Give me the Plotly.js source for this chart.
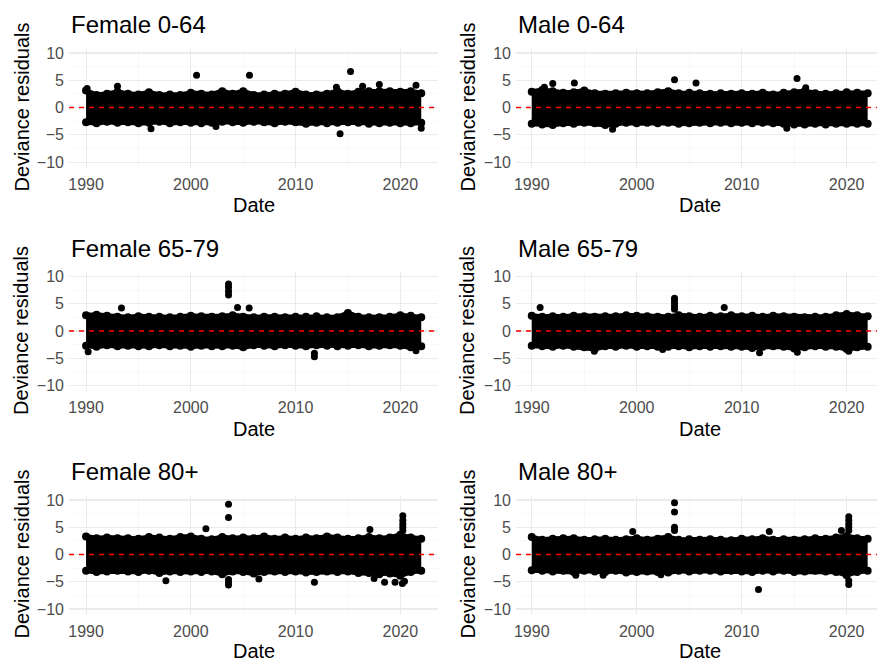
<!DOCTYPE html>
<html>
<head>
<meta charset="utf-8">
<script src="https://cdn.plot.ly/plotly-3.0.1.min.js"></script>
<style>html,body{margin:0;padding:0;background:#fff;}#chart{width:877px;height:661px;}</style>
</head>
<body>
<div id="chart"></div>
<script>
// ---- data ----
const panelTitles = ["Female 0-64", "Male 0-64", "Female 65-79", "Male 65-79", "Female 80+", "Male 80+"];
const xTitle = "Date";
const yTitle = "Deviance residuals";
// band envelope sampled once a year (centre of the outermost points)
const envYears = [1990,1991,1992,1993,1994,1995,1996,1997,1998,1999,2000,2001,2002,2003,2004,2005,2006,2007,2008,2009,2010,2011,2012,2013,2014,2015,2016,2017,2018,2019,2020,2021,2022];

const upperF064 = [3.1,2.3,2.5,2.9,2.5,2.4,2.8,2.3,2.4,2.3,2.7,2.5,2.4,3.0,2.5,3.0,2.3,2.4,2.5,2.5,2.9,2.4,2.4,2.5,3.0,2.5,2.9,3.0,3.0,3.0,2.9,3.0,2.6];
const lowerF064 = [-2.7,-2.9,-2.6,-2.8,-2.7,-2.9,-2.8,-2.6,-2.9,-2.7,-2.8,-2.9,-2.8,-2.6,-2.7,-2.8,-2.6,-2.7,-2.9,-2.6,-2.7,-3.0,-2.8,-2.9,-2.8,-2.7,-2.8,-3.0,-2.9,-2.8,-2.9,-2.9,-2.8];
const outXF064 = [2000.55,2005.6,2015.25,1993.0,2016.4,2018.0,2021.5,1996.2,2002.4,2014.25,2022.0,2013.9,1990.1];
const outYF064 = [5.9,5.9,6.6,3.9,3.9,4.2,4.1,-3.9,-3.5,-4.8,-3.8,3.7,3.5];

const upperM064 = [2.9,3.2,3.0,2.7,2.8,3.1,2.6,2.5,2.6,2.7,2.6,2.6,2.8,3.0,2.6,2.7,2.6,2.5,2.6,2.5,2.6,2.5,2.7,2.4,2.7,2.8,3.0,2.6,2.5,2.6,2.8,2.7,2.6];
const lowerM064 = [-3.0,-3.1,-3.2,-2.9,-3.0,-2.8,-2.9,-3.2,-3.0,-2.8,-2.9,-2.8,-2.9,-2.8,-3.0,-2.9,-2.8,-2.9,-2.8,-2.9,-2.8,-2.9,-2.8,-2.9,-3.0,-3.1,-3.1,-3.0,-3.1,-3.0,-3.0,-3.0,-3.0];
const outXM064 = [1992.0,1994.06,2003.6,2005.65,2015.27,2016.1,1997.7,1991.2,2014.3];
const outYM064 = [4.4,4.5,5.1,4.5,5.3,3.6,-4.0,3.7,-3.8];

const upperF6579 = [2.9,3.0,2.8,2.6,2.5,2.7,2.6,2.6,2.5,2.6,2.8,2.7,2.6,2.7,2.9,2.6,2.5,2.6,2.6,2.5,2.6,2.6,2.7,2.5,2.5,3.3,2.6,2.5,2.5,2.6,2.9,2.8,2.5];
const lowerF6579 = [-2.7,-2.9,-2.6,-2.8,-2.7,-2.8,-2.8,-2.6,-2.8,-2.7,-2.9,-2.7,-2.8,-2.8,-2.7,-3.0,-2.6,-2.7,-2.8,-2.6,-2.7,-2.8,-2.6,-2.7,-2.8,-2.7,-2.6,-2.8,-2.7,-2.6,-2.7,-3.0,-2.8];
const outXF6579 = [2003.6,2003.6,2003.6,2003.6,2004.46,2005.57,1993.38,1990.2,2011.8,2011.8,2021.5];
const outYF6579 = [8.6,8.0,7.3,6.6,4.3,4.2,4.2,-3.8,-4.1,-4.7,-3.6];

const upperM6579 = [2.8,2.6,2.7,2.6,2.8,2.7,2.6,2.7,2.7,2.9,2.8,2.7,2.6,2.6,2.9,2.7,2.6,2.8,2.7,2.9,2.7,2.8,2.6,2.8,2.7,2.6,2.5,2.6,2.6,2.9,3.1,2.9,2.7];
const lowerM6579 = [-2.7,-2.8,-2.9,-2.7,-2.9,-3.0,-3.3,-2.8,-2.9,-2.7,-2.9,-2.8,-2.9,-2.9,-2.8,-3.0,-2.8,-2.9,-2.8,-2.9,-2.9,-3.1,-2.9,-2.8,-2.9,-3.2,-3.0,-2.8,-2.9,-2.9,-3.3,-3.0,-2.9];
const outXM6579 = [1990.8,2003.6,2003.6,2003.6,2003.6,2003.6,2008.34,1995.96,2002.47,2011.7,2020.2,2015.3];
const outYM6579 = [4.3,6.0,5.5,5.0,4.5,4.0,4.3,-3.7,-3.4,-4.0,-3.7,-3.9];

const upperF80 = [3.3,3.0,3.1,3.0,3.0,2.9,3.2,3.1,2.9,3.2,3.3,2.9,2.8,3.2,3.0,3.1,3.0,3.3,2.9,3.1,2.9,3.1,3.0,3.3,3.1,2.9,3.0,3.2,3.0,3.1,3.6,3.1,2.9];
const lowerF80 = [-3.0,-3.2,-3.1,-3.0,-3.1,-3.2,-3.0,-3.4,-3.1,-3.2,-3.1,-3.2,-3.1,-3.6,-3.1,-3.2,-3.5,-3.2,-3.1,-3.2,-3.1,-3.3,-3.2,-3.1,-3.2,-3.1,-3.4,-3.4,-3.6,-3.5,-3.9,-3.2,-3.0];
const outXF80 = [2003.6,2003.6,2001.44,2020.24,2020.24,2020.24,2020.24,2020.24,2017.1,2011.8,2003.6,2003.6,2003.6,1997.62,2006.5,2018.5,2019.5,2020.4,2020.2,2017.5];
const outYF80 = [9.2,6.8,4.7,7.1,6.3,5.6,5.0,4.4,4.6,-5.1,-4.6,-5.2,-5.6,-4.8,-4.5,-5.1,-5.1,-4.9,-5.3,-4.4];

const upperM80 = [3.2,2.7,2.9,3.0,3.0,2.7,2.8,2.9,2.7,2.8,3.0,2.7,2.9,3.2,2.7,2.8,2.7,2.8,2.7,2.6,2.9,2.8,3.0,2.7,2.8,2.7,2.8,3.0,2.9,3.1,3.4,3.0,2.9];
const lowerM80 = [-2.9,-3.0,-3.1,-3.0,-3.2,-3.0,-3.1,-3.2,-3.0,-3.3,-3.2,-3.1,-3.2,-3.3,-3.0,-3.1,-3.0,-3.0,-3.1,-3.0,-3.1,-3.2,-3.0,-3.1,-3.0,-3.2,-3.1,-3.0,-3.1,-3.2,-3.8,-3.2,-3.0];
const outXM80 = [2003.6,2003.6,2003.6,2003.6,1999.62,2012.63,2020.2,2020.2,2020.2,2020.2,2020.2,2019.5,2011.6,1994.2,2020.2,2020.2,1996.8,2002.3];
const outYM80 = [9.5,7.8,5.0,4.4,4.2,4.2,6.9,6.3,5.6,5.0,4.4,4.4,-6.4,-3.8,-4.8,-5.5,-3.8,-3.7];

const panels = [
  {up: upperF064, lo: lowerF064, ox: outXF064, oy: outYF064},
  {up: upperM064, lo: lowerM064, ox: outXM064, oy: outYM064},
  {up: upperF6579, lo: lowerF6579, ox: outXF6579, oy: outYF6579},
  {up: upperM6579, lo: lowerM6579, ox: outXM6579, oy: outYM6579},
  {up: upperF80, lo: lowerF80, ox: outXF80, oy: outYF80},
  {up: upperM80, lo: lowerM80, ox: outXM80, oy: outYM80}
];

// ---- layout geometry ----
const W = 877, H = 661;
const colDom = [[69 / W, 438 / W], [516 / W, 1]];
const colRange = [[1988.37, 2023.6], [1988.5, 2022.89]];
const rowDom = [[1 - 167.5 / H, 1 - 47.5 / H], [1 - 391 / H, 1 - 271 / H], [1 - 614.5 / H, 1 - 494.5 / H]];
const rowTitleMid = [24.5, 248, 471.5];
const rowDateMid = [205, 429, 651];
const colTitleX = [69, 516];
const colYTitleX = [21, 467];
const colDateX = [253.5, 700];

const FONT = "Liberation Sans, Arial, sans-serif";
const traces = [];
const layout = {
  width: W, height: H,
  margin: {l: 0, r: 0, t: 0, b: 0},
  paper_bgcolor: "#ffffff", plot_bgcolor: "#ffffff",
  showlegend: false,
  font: {family: FONT},
  shapes: [], annotations: []
};

panels.forEach((p, i) => {
  const r = Math.floor(i / 2), c = i % 2;
  const n = i + 1;
  const xa = "x" + (n === 1 ? "" : n), ya = "y" + (n === 1 ? "" : n);
  const xk = "xaxis" + (n === 1 ? "" : n), yk = "yaxis" + (n === 1 ? "" : n);
  layout[xk] = {
    domain: colDom[c], range: colRange[c], anchor: ya,
    tick0: 1990, dtick: 10, showgrid: true, gridcolor: "#EBEBEB", gridwidth: 1.1,
    minor: {tick0: 1995, dtick: 10, showgrid: true, gridcolor: "#F4F4F4", gridwidth: 0.6},
    zeroline: false, showline: false, ticks: "", ticklabelstandoff: 5,
    tickfont: {size: 16, color: "#4D4D4D", family: FONT}, automargin: false, fixedrange: true
  };
  layout[yk] = {
    domain: rowDom[r], range: [-11, 11], anchor: xa,
    tick0: 0, dtick: 5, showgrid: true, gridcolor: "#EBEBEB", gridwidth: 1.1,
    minor: {tick0: 2.5, dtick: 5, showgrid: true, gridcolor: "#F4F4F4", gridwidth: 0.6},
    zeroline: false, showline: false, ticks: "", ticklabelstandoff: 4,
    tickfont: {size: 16, color: "#4D4D4D", family: FONT}, automargin: false, fixedrange: true
  };
  // band: lower edge then upper edge filled to it
  traces.push({x: envYears, y: p.lo, xaxis: xa, yaxis: ya, type: "scatter", mode: "lines+markers",
    line: {color: "#000", width: 5}, marker: {color: "#000", size: 8}, hoverinfo: "skip"});
  traces.push({x: envYears, y: p.up, xaxis: xa, yaxis: ya, type: "scatter", mode: "lines+markers",
    fill: "tonexty", fillcolor: "#000", line: {color: "#000", width: 5}, marker: {color: "#000", size: 8}, hoverinfo: "skip"});
  // isolated points
  traces.push({x: p.ox, y: p.oy, xaxis: xa, yaxis: ya, type: "scatter", mode: "markers",
    marker: {color: "#000", size: 7}, hoverinfo: "skip"});
  // dashed zero line
  layout.shapes.push({type: "line", xref: xa + " domain", yref: ya, x0: 0, x1: 1, y0: 0, y1: 0,
    line: {color: "#FF0000", width: 1.7, dash: "5px,5px"}, layer: "above"});
  // panel title
  layout.annotations.push({text: panelTitles[i], xref: "paper", yref: "paper",
    x: colTitleX[c] / W, y: 1 - rowTitleMid[r] / H, xanchor: "left", yanchor: "middle",
    showarrow: false, font: {size: 24, color: "#000", family: FONT}});
  // x title
  layout.annotations.push({text: xTitle, xref: "paper", yref: "paper",
    x: colDateX[c] / W, y: 1 - rowDateMid[r] / H, xanchor: "center", yanchor: "middle",
    showarrow: false, font: {size: 20, color: "#000", family: FONT}});
  // y title
  layout.annotations.push({text: yTitle, xref: "paper", yref: "paper", textangle: -90,
    x: colYTitleX[c] / W, y: (rowDom[r][0] + rowDom[r][1]) / 2, xanchor: "center", yanchor: "middle",
    showarrow: false, font: {size: 20, color: "#000", family: FONT}});
});

Plotly.newPlot("chart", traces, layout, {staticPlot: true, displayModeBar: false});
</script>
</body>
</html>
